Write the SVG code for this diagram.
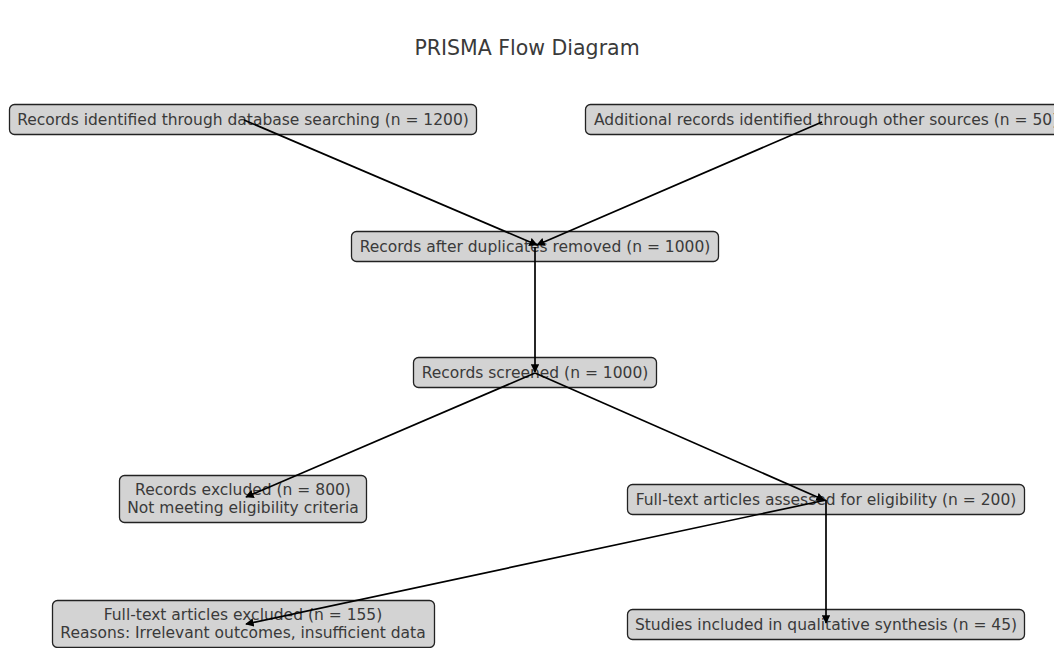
<svg xmlns="http://www.w3.org/2000/svg" width="1054" height="648" viewBox="0 0 1054 648">
<style>
.box{fill:#d3d3d3;stroke:#222;stroke-width:1.3}
.t{font-family:"DejaVu Sans",sans-serif;font-size:15.5px;fill:#3a3a3a;text-anchor:middle}
.title{font-family:"DejaVu Sans",sans-serif;font-size:20.5px;fill:#3a3a3a;text-anchor:middle}
.c{stroke:#000;stroke-width:1.7;fill:none;marker-end:url(#ah)}
</style>
<defs>
<marker id="ah" viewBox="0 0 10 10" refX="9" refY="5" markerWidth="5" markerHeight="5" orient="auto" markerUnits="strokeWidth">
<path d="M0,0 L10,5 L0,10 z" fill="#000"/>
</marker>
</defs>
<rect width="1054" height="648" fill="#fff"/>
<text class="title" x="527" y="55">PRISMA Flow Diagram</text>
<g id="n1"><rect class="box" x="9.5" y="104.5" width="467" height="30" rx="5"/><text class="t" x="243" y="125">Records identified through database searching (n = 1200)</text></g>
<g id="n2"><rect class="box" x="585.5" y="104.5" width="480" height="30" rx="5"/><text class="t" x="594" y="125" style="text-anchor:start">Additional records identified through other sources (n = 50)</text></g>
<g id="n3"><rect class="box" x="351.5" y="231.5" width="367" height="30" rx="5"/><text class="t" x="535" y="252">Records after duplicates removed (n = 1000)</text></g>
<g id="n4"><rect class="box" x="413.5" y="357.5" width="243" height="30" rx="5"/><text class="t" x="535" y="378">Records screened (n = 1000)</text></g>
<g id="n5"><rect class="box" x="119.5" y="475.5" width="247" height="47" rx="5"/><text class="t" x="243" y="495">Records excluded (n = 800)</text><text class="t" x="243" y="513">Not meeting eligibility criteria</text></g>
<g id="n6"><rect class="box" x="627.5" y="484.5" width="397" height="30" rx="5"/><text class="t" x="826" y="505">Full-text articles assessed for eligibility (n = 200)</text></g>
<g id="n7"><rect class="box" x="52.5" y="600.5" width="382" height="47" rx="5"/><text class="t" x="243" y="620">Full-text articles excluded (n = 155)</text><text class="t" x="243" y="638">Reasons: Irrelevant outcomes, insufficient data</text></g>
<g id="n8"><rect class="box" x="627.5" y="609.5" width="397" height="30" rx="5"/><text class="t" x="826" y="630">Studies included in qualitative synthesis (n = 45)</text></g>
<g id="connectors">
<line class="c" x1="244" y1="120" x2="537" y2="245"/>
<line class="c" x1="822" y1="122" x2="537" y2="245"/>
<line class="c" x1="535" y1="247" x2="535" y2="372"/>
<line class="c" x1="535" y1="373" x2="246" y2="497"/>
<line class="c" x1="535" y1="373" x2="824" y2="500"/>
<line class="c" x1="826" y1="500" x2="246" y2="624"/>
<line class="c" x1="826" y1="500" x2="826" y2="623"/>
</g>
</svg>
